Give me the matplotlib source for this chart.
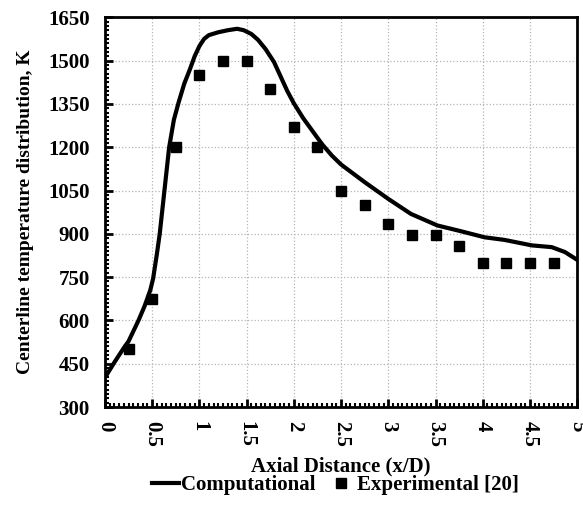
import matplotlib
matplotlib.use('Agg')
import matplotlib.pyplot as plt
from matplotlib.ticker import AutoMinorLocator
from matplotlib.lines import Line2D

# Computational centerline temperature
comp_x = [0, 0.1, 0.2, 0.25, 0.355, 0.42, 0.48, 0.51, 0.55, 0.58, 0.6, 0.63, 0.68,
          0.73, 0.78, 0.84, 0.9, 0.95, 1.0, 1.05, 1.1, 1.2, 1.3, 1.4, 1.47, 1.55, 1.62,
          1.7, 1.79, 1.86, 1.93, 2.0, 2.1, 2.2, 2.3, 2.4, 2.5, 2.75, 3.0, 3.24, 3.52,
          3.77, 4.02, 4.23, 4.52, 4.73, 4.87, 5.0]
comp_T = [402, 455, 505, 528, 600, 650, 705, 745, 830, 900, 960, 1050, 1200,
          1295, 1355, 1420, 1470, 1515, 1550, 1575, 1588, 1598, 1605, 1610, 1605, 1592,
          1572, 1540, 1495, 1445, 1395, 1352, 1300, 1255, 1210, 1172, 1140, 1079, 1021,
          969, 929, 909, 888, 879, 860, 854, 837, 810]

# Experimental [20]
exp_x = [0.25, 0.5, 0.75, 1.0, 1.25, 1.5, 1.75, 2.0, 2.25, 2.5, 2.75, 3.0, 3.25,
         3.5, 3.75, 4.0, 4.25, 4.5, 4.75]
exp_T = [500, 675, 1200, 1450, 1500, 1500, 1400, 1270, 1200, 1050, 1000, 935, 897,
         897, 857, 800, 800, 800, 800]

x_ticks = [0, 0.5, 1, 1.5, 2, 2.5, 3, 3.5, 4, 4.5, 5]
x_labels = ['0', '0.5', '1', '1.5', '2', '2.5', '3', '3.5', '4', '4.5', '5']
y_ticks = [300, 450, 600, 750, 900, 1050, 1200, 1350, 1500, 1650]

plt.rcParams['font.family'] = ['Liberation Serif', 'DejaVu Serif']
plt.rcParams['font.weight'] = 'bold'

fig = plt.figure(figsize=(5.83, 5.07), dpi=100)
ax = fig.add_axes([0.18, 0.197, 0.81, 0.769])

ax.plot(comp_x, comp_T, color='black', lw=3, solid_joinstyle='round',
        solid_capstyle='round', zorder=3)
ax.plot(exp_x, exp_T, 's', color='black', ms=7, zorder=4)

ax.set_xlim(0, 5)
ax.set_ylim(300, 1650)
ax.set_xticks(x_ticks)
ax.set_xticklabels(x_labels, rotation=-90, fontsize=15, fontweight='bold')
ax.set_yticks(y_ticks)
ax.set_yticklabels([str(v) for v in y_ticks], fontsize=15, fontweight='bold')
ax.xaxis.set_minor_locator(AutoMinorLocator(10))
ax.yaxis.set_minor_locator(AutoMinorLocator(10))
ax.tick_params(which='major', direction='in', length=6, width=2)
ax.tick_params(axis='y', which='major', pad=11)
ax.tick_params(axis='x', which='major', pad=10)
ax.tick_params(which='minor', direction='in', length=3, width=1.5)

ax.grid(True, which='major', color='#b5b5b5', linestyle=':', linewidth=0.9)
ax.set_axisbelow(True)
for s in ax.spines.values():
    s.set_linewidth(2)

ax.set_xlabel('Axial Distance (x/D)', fontsize=15, fontweight='bold', labelpad=7)
ax.set_ylabel('Centerline temperature distribution, K', fontsize=14, fontweight='bold',
              labelpad=10)

handles = [Line2D([], [], color='black', lw=3),
           Line2D([], [], color='black', marker='s', ls='none', ms=7)]
fig.legend(handles, ['Computational', 'Experimental [20]'], loc='center',
           bbox_to_anchor=(0.575, 0.043), ncol=2, frameon=False, fontsize=15,
           handlelength=1.3, handletextpad=0.1, columnspacing=0.6)

fig.savefig('out.png', dpi=100)
